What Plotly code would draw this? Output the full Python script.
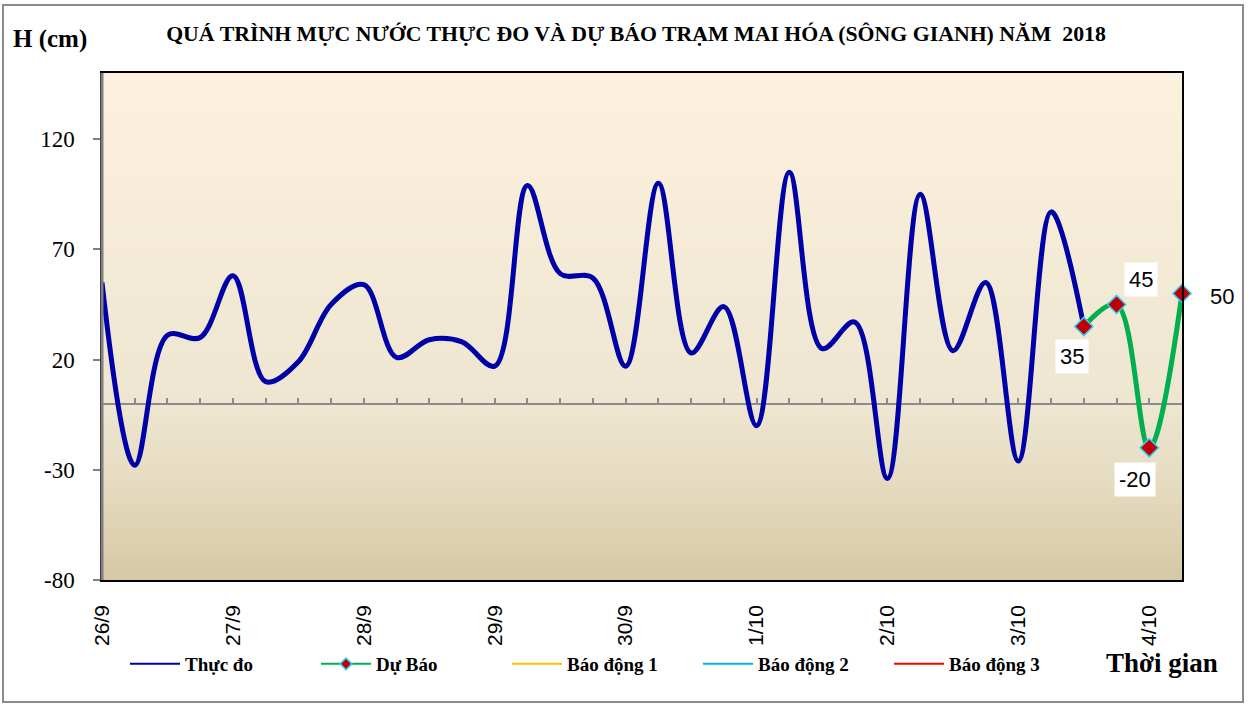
import plotly.graph_objects as go

# ---- data ----
day_labels = ["26/9", "27/9", "28/9", "29/9", "30/9", "1/10", "2/10", "3/10", "4/10"]
steps_per_day = 4  # observations every 6 hours

# water level H (cm), measured
thuc_do = [55, -28, 31, 30, 58, 10, 19, 45, 54, 21, 29, 28, 17, 99, 59, 57,
           17, 100, 23, 44, -10, 105, 25, 37, -34, 95, 24, 55, -26, 87, 35]
# forecast, starting from the last measured value
du_bao = [35, 45, -20, 50]

alarm_names = ["Báo động 1", "Báo động 2", "Báo động 3"]

y_ticks = [-80, -30, 20, 70, 120]
y_range = [-80, 150]

# ---- geometry of the picture (pixels) ----
W, H = 1251, 705
L, R, T, B = 102, 1182, 73, 580  # plot area


def px_x(p):
    return (p - L) / (R - L)


def px_y(p):
    return (B - p) / (B - T)


serif = "Liberation Serif"
sans = "Liberation Sans"

x_meas = list(range(len(thuc_do)))
x_fc = list(range(len(thuc_do) - 1, len(thuc_do) - 1 + len(du_bao)))
x_max = x_fc[-1]

fig = go.Figure()

fig.add_trace(go.Scatter(
    x=x_meas, y=thuc_do, mode="lines", name="Thực đo", showlegend=False,
    line=dict(color="#0000A8", width=5, shape="spline", smoothing=1.0),
))
fig.add_trace(go.Scatter(
    x=x_fc, y=du_bao, mode="lines+markers", name="Dự Báo", showlegend=False,
    line=dict(color="#00B050", width=5, shape="spline", smoothing=1.0),
    marker=dict(symbol="diamond", size=14, color="#C00000",
                line=dict(color="#33CCFF", width=1.5)),
    cliponaxis=False,
))

# legend-only entries (thin samples like the original)
fig.add_trace(go.Scatter(x=[None], y=[None], mode="lines", name="Thực đo",
                         xaxis="x2", line=dict(color="#0000A8", width=2)))
fig.add_trace(go.Scatter(x=[None], y=[None], mode="lines+markers", name="Dự Báo",
                         xaxis="x2", line=dict(color="#00B050", width=2),
                         marker=dict(symbol="diamond", size=9, color="#C00000",
                                     line=dict(color="#33CCFF", width=1.5))))
for name, col in zip(alarm_names, ["#FFC000", "#00B0F0", "#FF0000"]):
    fig.add_trace(go.Scatter(x=[None], y=[None], mode="lines", name=name,
                             xaxis="x2", line=dict(color=col, width=2)))

# ---- background gradient ----
stops = [(0.0, (214, 200, 165)), (0.2, (229, 220, 193)), (0.35, (238, 230, 209)),
         (1.0, (252, 241, 220))]


def grad(f):
    for (f0, c0), (f1, c1) in zip(stops[:-1], stops[1:]):
        if f <= f1:
            t = (f - f0) / (f1 - f0)
            return "rgb(%d,%d,%d)" % tuple(round(a + (b - a) * t) for a, b in zip(c0, c1))
    return "rgb(%d,%d,%d)" % stops[-1][1]


shapes = []
n = 80
for k in range(n):
    shapes.append(dict(type="rect", xref="paper", yref="paper", x0=0, x1=1,
                       y0=k / n, y1=min(1, (k + 1) / n + 0.003),
                       fillcolor=grad((k + 0.5) / n), line=dict(width=0), layer="below"))
# left axis drawn in gray
shapes.append(dict(type="line", xref="paper", yref="paper", x0=0, x1=0, y0=0, y1=1,
                   line=dict(color="#808080", width=3), layer="above"))
# outer chart border
shapes.append(dict(type="rect", xref="paper", yref="paper",
                   x0=px_x(3), x1=px_x(1243), y0=px_y(702), y1=px_y(5),
                   line=dict(color="#8C8C8C", width=2), layer="below"))

# ---- data labels on the forecast ----
label_shift = [(-12, -30), (24, 25), (-14, -32), (40, -3)]
annotations = []
for xv, yv, (dx, dy) in zip(x_fc, du_bao, label_shift):
    annotations.append(dict(x=xv, y=yv, xref="x", yref="y", text=str(yv),
                            showarrow=False, xshift=dx, yshift=dy,
                            bgcolor="white", borderpad=4,
                            font=dict(family=sans, size=22, color="black")))

annotations.append(dict(x=px_x(50), y=px_y(39), xref="paper", yref="paper",
                        xanchor="center", yanchor="middle",
                        text="H (cm)", showarrow=False,
                        font=dict(family=serif, size=25, color="black", weight="bold")))
annotations.append(dict(x=px_x(1162), y=px_y(663), xref="paper", yref="paper",
                        xanchor="center", yanchor="middle",
                        text="Thời gian", showarrow=False,
                        font=dict(family=serif, size=27, color="black", weight="bold")))

zero_pos = (0 - y_range[0]) / (y_range[1] - y_range[0])

fig.update_layout(
    width=W, height=H,
    margin=dict(l=L, r=W - R, t=T, b=H - B),
    paper_bgcolor="white", plot_bgcolor="#F2EAD5",
    title=dict(text="QUÁ TRÌNH MỰC NƯỚC THỰC ĐO VÀ DỰ BÁO TRẠM MAI HÓA (SÔNG GIANH) NĂM  2018",
               x=636 / W, y=1 - 33 / H, xanchor="center", yanchor="middle",
               font=dict(family=serif, size=21.8, color="black", weight="bold")),
    xaxis=dict(range=[0, x_max], tickvals=[i * steps_per_day for i in range(len(day_labels))],
               ticktext=day_labels, tickangle=-90, ticks="", showgrid=False, zeroline=False,
               tickfont=dict(family=sans, size=21, color="black"), ticklabelstandoff=15,
               showline=True, linecolor="black", linewidth=1.5, mirror=True),
    xaxis2=dict(range=[0, x_max], overlaying="x", anchor="free", position=zero_pos,
                tick0=0, dtick=1, ticks="inside", ticklen=6, tickwidth=1.5,
                tickcolor="#8C8C8C", showticklabels=False, showgrid=False,
                zeroline=False, showline=False),
    yaxis=dict(range=y_range, tickvals=y_ticks, ticktext=[str(v) for v in y_ticks],
               ticks="outside", ticklen=7, tickwidth=1.5,
               tickcolor="#808080", showgrid=False, zeroline=True, zerolinecolor="#8C8C8C",
               zerolinewidth=1.5, tickfont=dict(family=serif, size=23, color="black"),
               ticklabelstandoff=14,
               showline=True, linecolor="black", linewidth=1.5, mirror=True),
    legend=dict(orientation="h", x=px_x(125), y=px_y(664), xanchor="left", yanchor="middle",
                font=dict(family=serif, size=19, color="black", weight="bold"),
                entrywidthmode="pixels", entrywidth=126, itemwidth=50,
                bgcolor="rgba(0,0,0,0)"),
    shapes=shapes,
    annotations=annotations,
    showlegend=True,
)

fig.write_html("out.html", config={"displayModeBar": False},
               post_script="document.body.style.margin='0';")
